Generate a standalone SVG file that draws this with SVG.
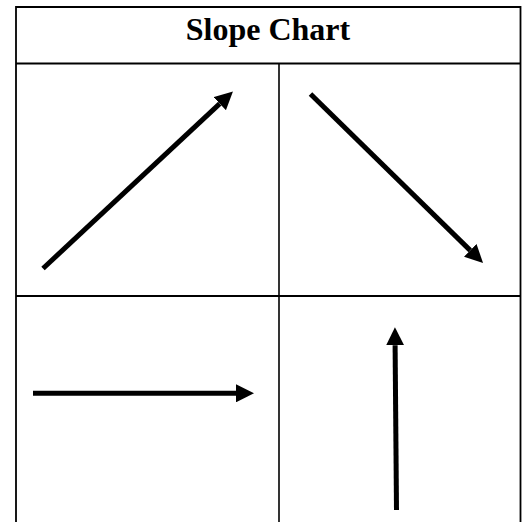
<svg xmlns="http://www.w3.org/2000/svg" width="525" height="522" viewBox="0 0 525 522">
  <defs>
    <style>
      .grid { stroke: #000; fill: none; }
      .arrow { stroke: #000; stroke-width: 5; fill: none; stroke-linecap: butt; marker-end: url(#head); }
      .title { font-family: "Liberation Serif", "Times New Roman", serif; font-weight: bold; font-size: 32px; fill: #000; }
    </style>
    <marker id="head" markerUnits="userSpaceOnUse" markerWidth="18" markerHeight="18" refX="0" refY="9" orient="auto" viewBox="0 0 18 18">
      <path d="M0,0 L18,9 L0,18 Z" fill="#000"/>
    </marker>
  </defs>
  <rect width="525" height="522" fill="#fff"/>
  <g id="table">
    <path class="grid" stroke-width="1.8" d="M16,530 L16,7 L520.5,7 L520.5,530"/>
    <line class="grid" stroke-width="2" x1="16" y1="63.5" x2="520.5" y2="63.5"/>
    <line class="grid" stroke-width="2" x1="16" y1="296" x2="520.5" y2="296"/>
    <line class="grid" stroke-width="1.6" x1="279" y1="63.5" x2="279" y2="530"/>
  </g>
  <g id="title">
    <text class="title" x="268" y="39.5" text-anchor="middle">Slope Chart</text>
  </g>
  <g id="connectors">
    <line id="arrow-up-right" class="arrow" x1="43" y1="268.5" x2="219.8" y2="103.7"/>
    <line id="arrow-down-right" class="arrow" x1="310.5" y1="94" x2="470.2" y2="250.4"/>
    <line id="arrow-right" class="arrow" x1="33" y1="393.3" x2="236" y2="393.3"/>
    <line id="arrow-up" class="arrow" x1="396.5" y1="510" x2="395.1" y2="345.3"/>
  </g>
</svg>
